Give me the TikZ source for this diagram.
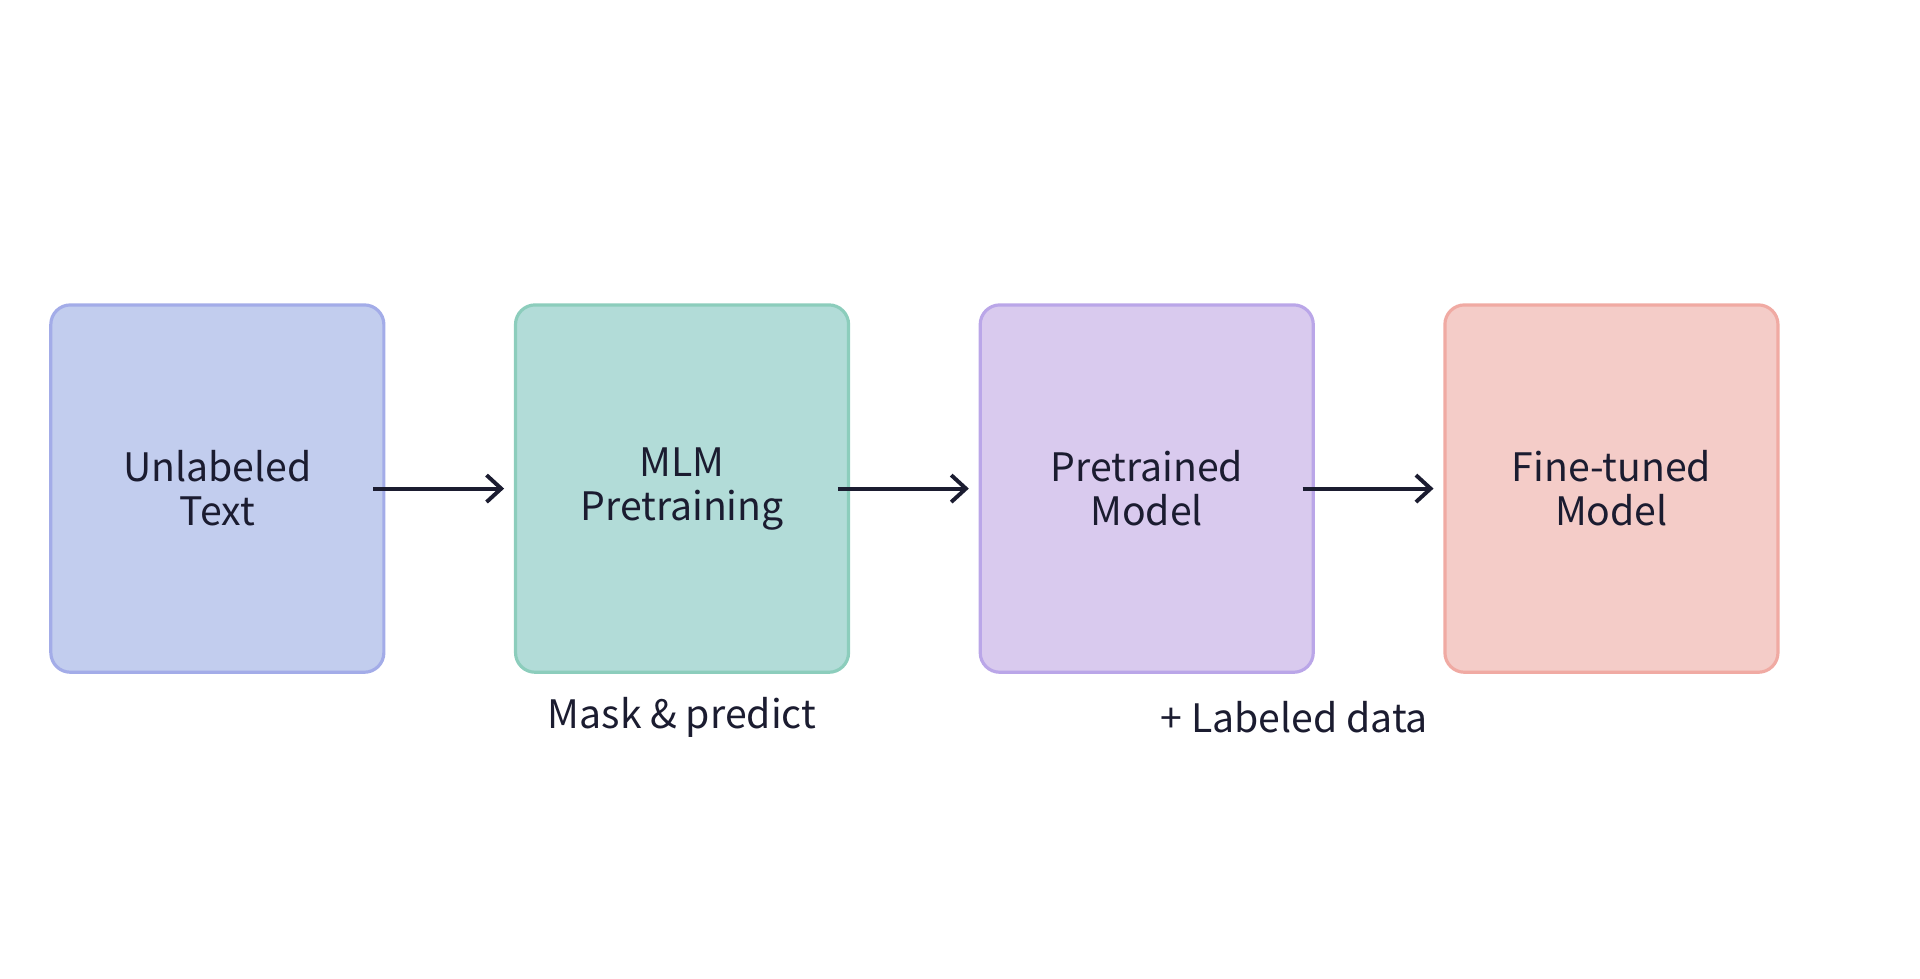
\documentclass[tikz,border=0pt]{standalone}
\usepackage{fontspec}
\setmainfont{Noto Sans CJK KR}
\usetikzlibrary{arrows.meta}
\definecolor{ink}{HTML}{1B1C30}
\definecolor{fA}{HTML}{C2CDEE}\definecolor{dA}{HTML}{A3ACE8}
\definecolor{fB}{HTML}{B2DCD8}\definecolor{dB}{HTML}{8CCDBC}
\definecolor{fC}{HTML}{D9CAEE}\definecolor{dC}{HTML}{BAA6E8}
\definecolor{fD}{HTML}{F4CCC8}\definecolor{dD}{HTML}{F0AAA3}
\begin{document}
\begin{tikzpicture}[x=0.5pt,y=-0.5pt,
  box/.style={rounded corners=8pt,line width=1.3pt,minimum width=136pt,minimum height=150pt,inner sep=0pt,align=center,text=ink,font=\fontsize{16}{18}\selectfont},
  conn/.style={draw=ink,line width=1.6pt,-{Straight Barb[length=6pt,width=11pt,line width=1.6pt]}},
  lab/.style={text=ink,font=\fontsize{16}{18}\selectfont}]
\useasboundingbox (0,0) rectangle (1568,799);
\node[box,fill=fA,draw=dA] (a) at (177.5,399) {Unlabeled\\Text};
\node[box,fill=fB,draw=dB] (b) at (557,399) {MLM\\Pretraining};
\node[box,fill=fC,draw=dC] (c) at (936.5,399) {Pretrained\\Model};
\node[box,fill=fD,draw=dD] (d) at (1316,399) {Fine-tuned\\Model};
\draw[conn] ([xshift=-5pt]a.east) -- ([xshift=-4pt]b.west);
\draw[conn] ([xshift=-5pt]b.east) -- ([xshift=-4pt]c.west);
\draw[conn] ([xshift=-5pt]c.east) -- ([xshift=-4pt]d.west);
\node[lab] (l1) at (557,586) {Mask \& predict};
\node[lab] (l2) at (1057,586) {+ Labeled data};
\end{tikzpicture}
\end{document}
